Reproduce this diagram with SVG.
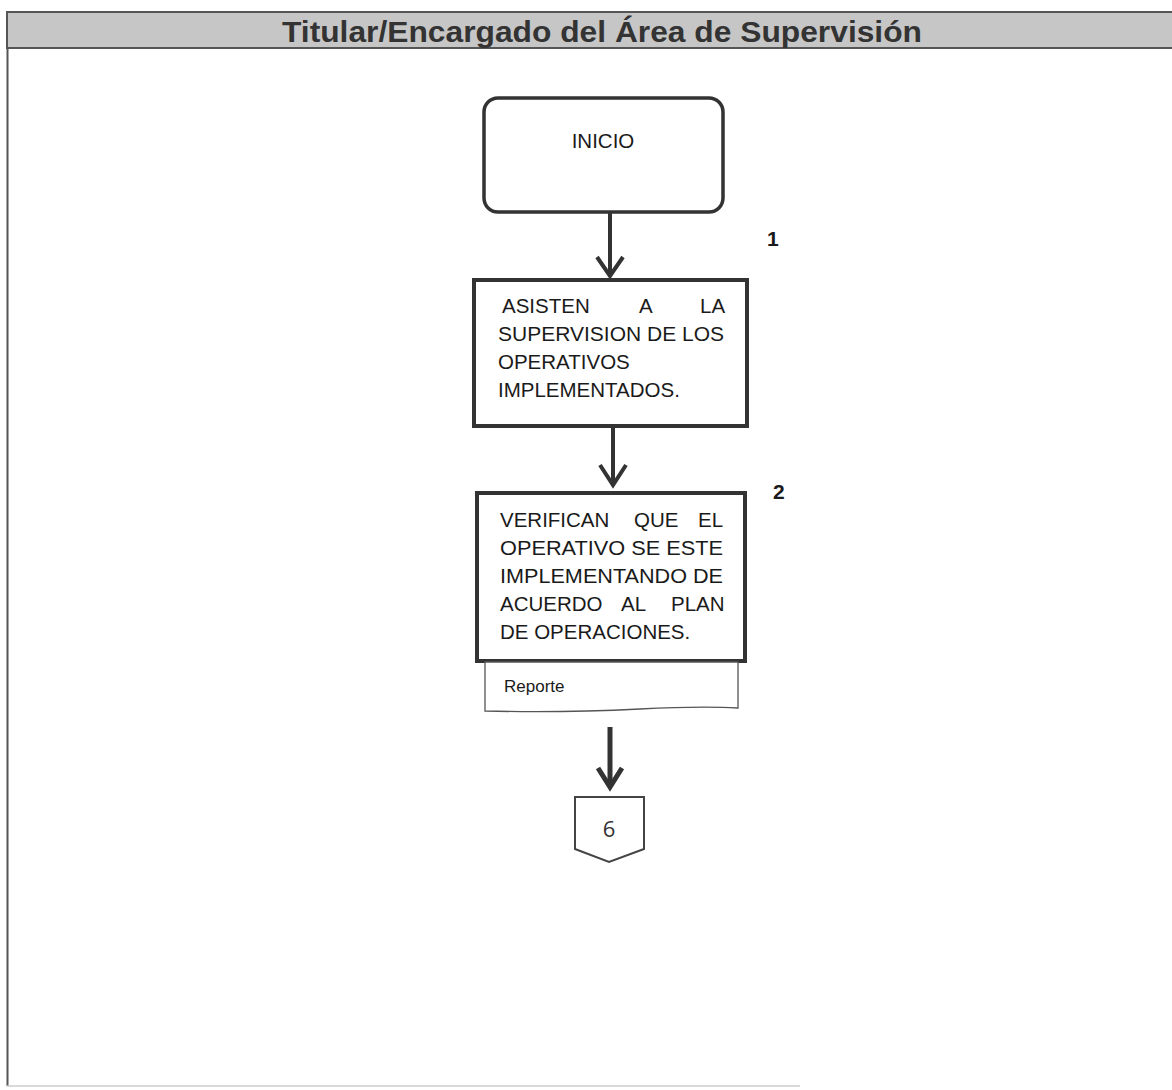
<svg xmlns="http://www.w3.org/2000/svg" width="1172" height="1090" viewBox="0 0 1172 1090">
<style>
.t{font-family:"Liberation Sans",Arial,sans-serif;fill:#1a1a1a}
.b{font-size:20.5px}
.box{fill:#fff;stroke:#333;stroke-width:4}
.conn{stroke:#333;stroke-width:4;fill:none}
</style>
<rect width="1172" height="1090" fill="#fff"/>
<g id="lane">
<rect x="7" y="12" width="1170" height="36" fill="#c6c6c6" stroke="#555" stroke-width="2"/>
<line x1="7.5" y1="48" x2="7.5" y2="1086" stroke="#555" stroke-width="2"/>
<line x1="7" y1="1086" x2="800" y2="1086" stroke="#ccc" stroke-width="1.5"/>
<text x="282" y="42" textLength="640" lengthAdjust="spacingAndGlyphs" class="t" style="font-size:29px;font-weight:bold;fill:#333">Titular/Encargado del Área de Supervisión</text>
</g>
<g id="inicio">
<rect x="484" y="98" width="239" height="114" rx="14" class="box" style="stroke-width:3.5"/>
<text x="603" y="148" text-anchor="middle" class="t b">INICIO</text>
</g>
<g id="step1">
<rect x="474" y="280" width="273" height="146" class="box"/>
<text class="t b">
<tspan x="502" y="313">ASISTEN</tspan><tspan x="639" y="313">A</tspan><tspan x="700" y="313">LA</tspan>
<tspan x="498" y="341" textLength="226" lengthAdjust="spacingAndGlyphs">SUPERVISION DE LOS</tspan>
<tspan x="498" y="369">OPERATIVOS</tspan>
<tspan x="498" y="397">IMPLEMENTADOS.</tspan>
</text>
<text x="767" y="246" class="t" style="font-size:21px;font-weight:bold">1</text>
</g>
<g id="step2">
<rect x="477" y="493" width="268" height="168" class="box"/>
<text class="t b">
<tspan x="500" y="527">VERIFICAN</tspan><tspan x="634" y="527">QUE</tspan><tspan x="698" y="527">EL</tspan>
<tspan x="500" y="555" textLength="223" lengthAdjust="spacingAndGlyphs">OPERATIVO SE ESTE</tspan>
<tspan x="500" y="583" textLength="223" lengthAdjust="spacingAndGlyphs">IMPLEMENTANDO DE</tspan>
<tspan x="500" y="611">ACUERDO</tspan><tspan x="621" y="611">AL</tspan><tspan x="671" y="611">PLAN</tspan>
<tspan x="500" y="639">DE OPERACIONES.</tspan>
</text>
<text x="773" y="499" class="t" style="font-size:21px;font-weight:bold">2</text>
</g>
<g id="reporte">
<path d="M485 662 H738 V708 Q700 706 640 709 Q560 713 485 711 Z" fill="#fff" stroke="#555" stroke-width="1.3"/>
<text x="504" y="692" class="t" style="font-size:17px">Reporte</text>
</g>
<g id="connector6">
<path d="M575 797 H644 V849 L609 862 L575 849 Z" fill="#fff" stroke="#444" stroke-width="2"/>
<text x="609" y="837" text-anchor="middle" style="font-family:'Open Sans',sans-serif;font-size:22px;fill:#333">6</text>
</g>
<g id="connectors">
<line x1="610" y1="212" x2="610" y2="276" class="conn"/>
<polyline points="597,257 610,276 623,257" class="conn"/>
<line x1="613" y1="426" x2="613" y2="486" class="conn"/>
<polyline points="600,465 613,485 626,465" class="conn"/>
<line x1="610" y1="727" x2="610" y2="786" class="conn" style="stroke-width:5"/>
<polyline points="598,768 610,787 622,768" class="conn" style="stroke-width:5"/>
</g>
</svg>
